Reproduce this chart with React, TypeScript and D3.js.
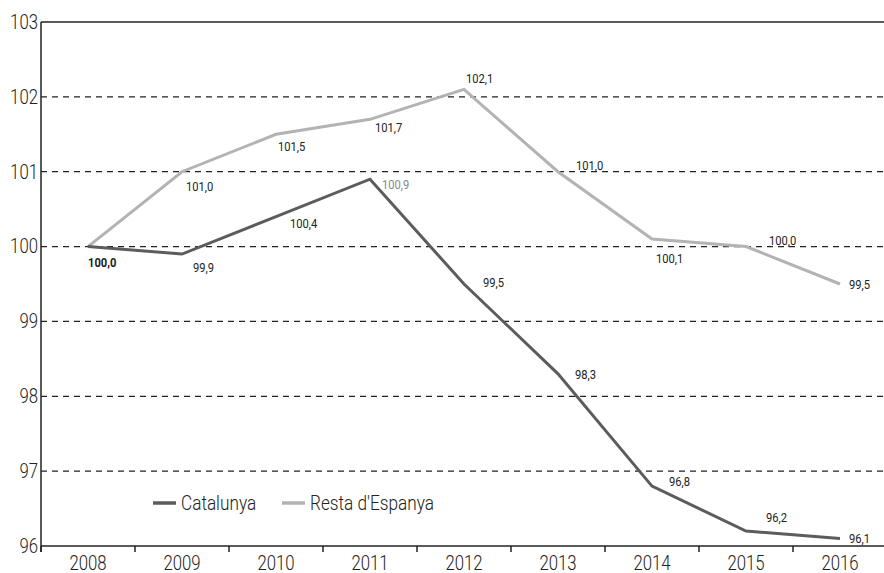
import * as d3 from "d3";
import { useEffect, useRef } from "react";

const years = ["2008", "2009", "2010", "2011", "2012", "2013", "2014", "2015", "2016"];
const catalunya = [100.0, 99.9, 100.4, 100.9, 99.5, 98.3, 96.8, 96.2, 96.1];
const resta = [100.0, 101.0, 101.5, 101.7, 102.1, 101.0, 100.1, 100.0, 99.5];
const yTicks = [96, 97, 98, 99, 100, 101, 102, 103];

// label nudges (px) relative to each point
const catOffsets: [number, number][] = [
  [0, 16], [11, 13], [14, 7], [12, 5], [19, -2], [17, 1], [17, -5], [20, -14], [9, 0],
];
const restaOffsets: [number, number][] = [
  [0, 16], [4, 15], [2, 12], [5, 8], [2, -11], [18, -6], [4, 19], [23, -6], [9, 0],
];

const FONT = "Roboto, 'Liberation Sans', sans-serif";
const SX = 0.86; // fake a condensed face

type TextOpts = {
  size: number;
  anchor?: string;
  weight?: string | number;
  fill?: string;
};

function addText(
  parent: d3.Selection<SVGSVGElement | SVGGElement, unknown, null, undefined>,
  x: number,
  y: number,
  str: string,
  o: TextOpts
) {
  parent
    .append("g")
    .attr("transform", `translate(${x}, ${y}) scale(${SX}, 1)`)
    .append("text")
    .attr("dy", "0.35em")
    .attr("text-anchor", o.anchor ?? "start")
    .attr("font-family", FONT)
    .attr("font-size", o.size)
    .attr("font-weight", o.weight ?? "normal")
    .attr("fill", o.fill ?? "#222")
    .text(str);
}

export default function App() {
  const ref = useRef<SVGSVGElement>(null);

  useEffect(() => {
    const width = 884;
    const height = 573;
    const left = 41;
    const top = 22;
    const bottom = 546;
    const band = 94;

    const svg = d3.select(ref.current as SVGSVGElement);
    svg.selectAll("*").remove();
    svg.attr("width", width).attr("height", height);

    const x = d3.scaleBand<string>()
      .domain(years)
      .range([left, left + band * years.length]);
    const y = d3.scaleLinear().domain([96, 103]).range([bottom, top]);
    const cx = (i: number) => (x(years[i]) as number) + x.bandwidth() / 2;

    // grid lines
    svg.selectAll("line.grid")
      .data(yTicks.filter(t => t > 96 && t < 103))
      .enter()
      .append("line")
      .attr("x1", left)
      .attr("x2", width)
      .attr("y1", d => y(d))
      .attr("y2", d => y(d))
      .attr("stroke", "#222")
      .attr("stroke-width", 1.2)
      .attr("stroke-dasharray", "6,5");

    // top border
    svg.append("line")
      .attr("x1", left).attr("x2", width)
      .attr("y1", y(103)).attr("y2", y(103))
      .attr("stroke", "#222").attr("stroke-width", 1.5);

    // y axis line
    svg.append("line")
      .attr("x1", left).attr("x2", left)
      .attr("y1", y(103)).attr("y2", y(96) + 6)
      .attr("stroke", "#222").attr("stroke-width", 1.5);

    // x axis
    svg.append("line")
      .attr("x1", left).attr("x2", width)
      .attr("y1", y(96)).attr("y2", y(96))
      .attr("stroke", "#222").attr("stroke-width", 1.5);

    svg.selectAll("line.xtick")
      .data(years)
      .enter()
      .append("line")
      .attr("x1", d => x(d) as number)
      .attr("x2", d => x(d) as number)
      .attr("y1", y(96))
      .attr("y2", y(96) + 6)
      .attr("stroke", "#222").attr("stroke-width", 1.5);

    years.forEach((d, i) => addText(svg, cx(i), 563, d, { size: 19.5, anchor: "middle", weight: 300 }));
    yTicks.forEach(t => addText(svg, 38, y(t), String(t), { size: 19.5, anchor: "end", weight: 300 }));

    const line = d3.line<number>()
      .x((_, i) => cx(i))
      .y(d => y(d));

    svg.append("path")
      .datum(resta)
      .attr("d", line)
      .attr("fill", "none")
      .attr("stroke", "#b3b3b3")
      .attr("stroke-width", 3);

    svg.append("path")
      .datum(catalunya)
      .attr("d", line)
      .attr("fill", "none")
      .attr("stroke", "#5c5c5c")
      .attr("stroke-width", 3);

    const fmt = (v: number) => v.toFixed(1).replace(".", ",");

    // resta labels (2008 is shared with Catalunya)
    resta.forEach((v, i) => {
      if (i === 0) return;
      addText(svg, cx(i) + restaOffsets[i][0], y(v) + restaOffsets[i][1], fmt(v), { size: 13 });
    });
    catalunya.forEach((v, i) => {
      addText(svg, cx(i) + catOffsets[i][0], y(v) + catOffsets[i][1], fmt(v), {
        size: 13,
        weight: i === 0 ? "bold" : "normal",
        fill: i === 3 ? "#888" : "#222",
      });
    });

    // legend
    const legend = [
      { name: "Catalunya", color: "#5c5c5c", x: 153 },
      { name: "Resta d'Espanya", color: "#b3b3b3", x: 282 },
    ];
    legend.forEach(l => {
      svg.append("line")
        .attr("x1", l.x).attr("x2", l.x + 23)
        .attr("y1", 503).attr("y2", 503)
        .attr("stroke", l.color)
        .attr("stroke-width", 3.5);
      addText(svg, l.x + 28, 503, l.name, { size: 20, weight: 300 });
    });
  }, []);

  return (
    <svg
      ref={ref}
      style={{ position: "absolute", left: 0, top: 0, background: "#fff" }}
    />
  );
}
